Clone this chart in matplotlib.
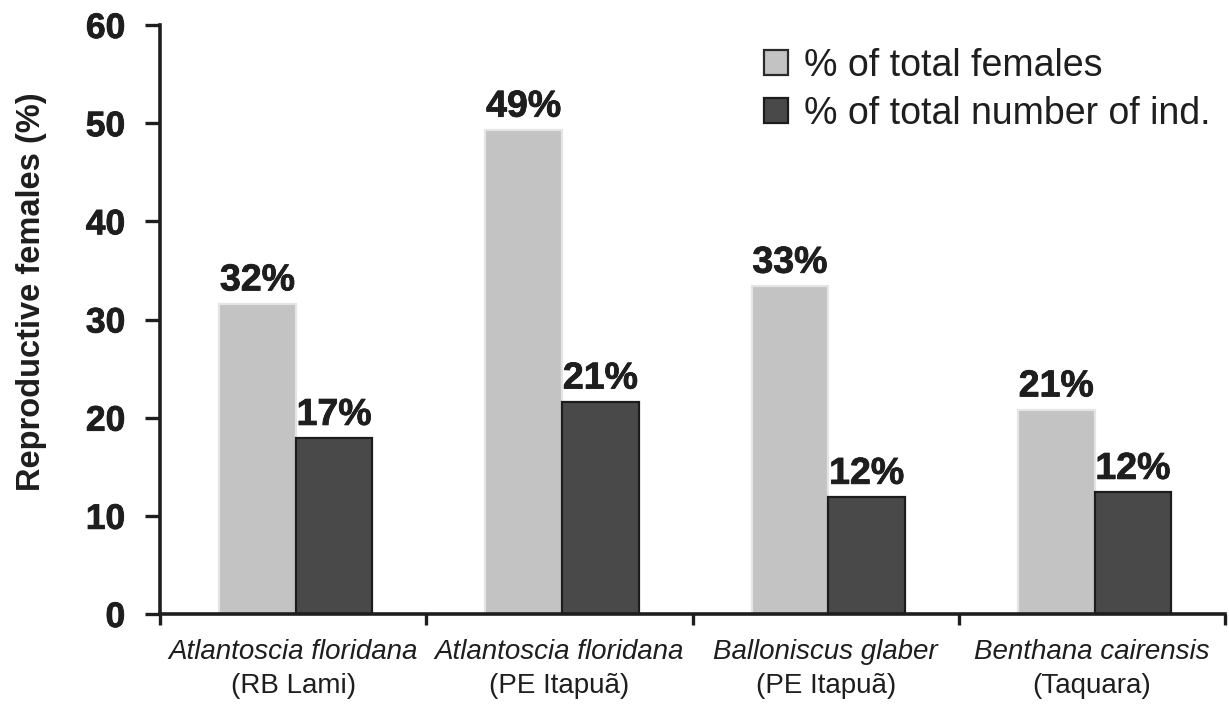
import matplotlib
matplotlib.use("Agg")
import matplotlib.pyplot as plt
from matplotlib.patches import Patch
import matplotlib.patheffects as pe
import numpy as np

species = ["Atlantoscia floridana", "Atlantoscia floridana", "Balloniscus glaber", "Benthana cairensis"]
sites = ["(RB Lami)", "(PE Itapuã)", "(PE Itapuã)", "(Taquara)"]
pct_females = [31.6, 49.3, 33.4, 20.8]
pct_total = [17.9, 21.6, 11.9, 12.4]
labels_females = ["32%", "49%", "33%", "21%"]
labels_total = ["17%", "21%", "12%", "12%"]
yticks = [0, 10, 20, 30, 40, 50, 60]
legend_labels = ["% of total females", "% of total number of ind."]
ylabel = "Reproductive females (%)"

TXT = "#1e1e1e"
light = "#c3c3c3"
dark = "#494949"
heavy_fx = [pe.withStroke(linewidth=0.6, foreground=TXT)]

fig = plt.figure(figsize=(12.29, 7.04), dpi=100)
ax = fig.add_axes([160 / 1229, 1 - 614 / 704, 1065 / 1229, 589 / 704])

n = len(species)
x = np.arange(n) + 0.5
w = 0.288
off = 0.01
b1 = ax.bar(x - w / 2 + off, pct_females, w, color=light, edgecolor="#e4e4e4", linewidth=1.6, zorder=2)
b2 = ax.bar(x + w / 2 + off, pct_total, w, color=dark, edgecolor="#1c1c1c", linewidth=1.6, zorder=2)

for bars, labs in ((b1, labels_females), (b2, labels_total)):
    for rect, lab in zip(bars, labs):
        ax.text(rect.get_x() + rect.get_width() / 2, rect.get_height() + 0.55, lab,
                ha="center", va="bottom", fontsize=27, fontweight="bold",
                family="Liberation Sans", color=TXT, path_effects=heavy_fx)

ax.set_xlim(0, 4)
ax.set_ylim(0, 60)
ax.set_yticks(yticks)
ax.set_yticklabels([str(t) for t in yticks])
for t in ax.get_yticklabels():
    t.set_fontsize(25.5)
    t.set_fontweight("bold")
    t.set_family("Liberation Sans")
    t.set_color(TXT)
    t.set_path_effects(heavy_fx)
ax.set_xticks([0, 1, 2, 3, 4])
ax.set_xticklabels([])
ax.tick_params(axis="y", length=11, width=2.4, pad=14, color=TXT)
ax.tick_params(axis="x", length=8, width=2.4, color=TXT)

for s in ["top", "right"]:
    ax.spines[s].set_visible(False)
for s in ["left", "bottom"]:
    ax.spines[s].set_linewidth(2.6)
    ax.spines[s].set_color(TXT)

for xi, sp, st in zip(x, species, sites):
    ax.text(xi, -3.9, sp, ha="center", va="center", fontsize=20, style="italic",
            family="Liberation Sans", color=TXT)
    ax.text(xi, -7.35, st, ha="center", va="center", fontsize=20,
            family="Liberation Sans", color=TXT)

# y label, sized to span the same length as in the reference
yl = ax.set_ylabel(ylabel, fontsize=24, fontweight="bold", family="Liberation Sans", color=TXT)
fig.canvas.draw()
r = fig.canvas.get_renderer()
ext = yl.get_window_extent(r)
yl.set_fontsize(yl.get_fontsize() * 400.0 / ext.height)
ax.yaxis.set_label_coords((47 - 160) / 1065, (614 - 292) / 589)

handles = [Patch(facecolor=light, edgecolor="#2a2a2a", linewidth=1.6),
           Patch(facecolor=dark, edgecolor="#1c1c1c", linewidth=1.6)]
leg = ax.legend(handles, legend_labels, loc="upper left",
                bbox_to_anchor=((764 - 160) / 1065, (614 - 48) / 589),
                frameon=False, prop={"family": "Liberation Sans", "size": 27},
                handlelength=0.65, handleheight=0.65, handletextpad=0.42,
                labelspacing=0.32, borderaxespad=0.0, borderpad=0.0)
for t in leg.get_texts():
    t.set_color(TXT)

fig.savefig("out.png", dpi=100)
